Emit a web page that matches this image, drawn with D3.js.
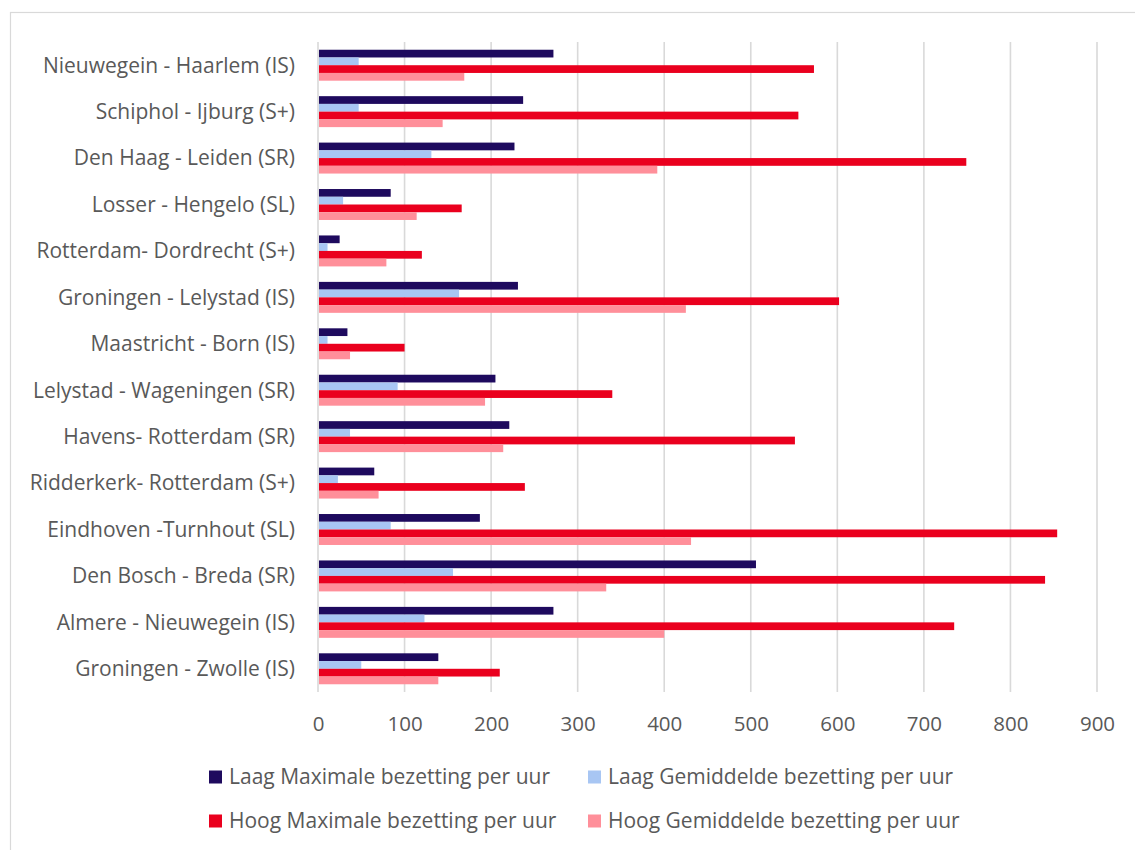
<!DOCTYPE html>
<html>
<head>
    <title>Bezetting per uur</title>
    <style>
        body { margin: 0; background: #fff; }
        text { font-family: "Open Sans", sans-serif; fill: #595959; }
        .grid line { stroke: #d9d9d9; stroke-width: 1.6px; }
    </style>
</head>
<body>
    <script src="https://d3js.org/d3.v7.min.js"></script>
    <script>
        const width = 1135;
        const height = 850;

        // categories top to bottom
        const routes = [
            "Nieuwegein - Haarlem (IS)",
            "Schiphol - Ijburg (S+)",
            "Den Haag - Leiden (SR)",
            "Losser - Hengelo (SL)",
            "Rotterdam- Dordrecht (S+)",
            "Groningen - Lelystad (IS)",
            "Maastricht - Born (IS)",
            "Lelystad - Wageningen (SR)",
            "Havens- Rotterdam (SR)",
            "Ridderkerk- Rotterdam (S+)",
            "Eindhoven -Turnhout (SL)",
            "Den Bosch - Breda (SR)",
            "Almere - Nieuwegein (IS)",
            "Groningen - Zwolle (IS)"
        ];

        const seriesNames = [
            "Laag Maximale bezetting per uur",
            "Laag Gemiddelde bezetting per uur",
            "Hoog Maximale bezetting per uur",
            "Hoog Gemiddelde bezetting per uur"
        ];

        const laagMax = [272, 237, 227, 84, 25, 231, 34, 205, 221, 65, 187, 506, 272, 139];
        const laagGem = [47, 47, 131, 29, 11, 163, 11, 92, 37, 23, 84, 156, 123, 50];
        const hoogMax = [573, 555, 749, 166, 120, 602, 100, 340, 551, 239, 854, 840, 735, 210];
        const hoogGem = [169, 144, 392, 114, 79, 425, 37, 193, 214, 70, 431, 333, 400, 139];

        const colors = ["#1e0a5e", "#a8c6f3", "#ea001e", "#ff8f9a"];
        const xTicks = [0, 100, 200, 300, 400, 500, 600, 700, 800, 900];

        const seriesValues = [laagMax, laagGem, hoogMax, hoogGem];

        const svg = d3.select("body").append("svg")
            .attr("width", width)
            .attr("height", height);

        // chart border
        svg.append("rect")
            .attr("x", 10.5).attr("y", 12.5)
            .attr("width", width + 10).attr("height", height + 10)
            .attr("fill", "none")
            .attr("stroke", "#d9d9d9")
            .attr("stroke-width", 1.2);

        const x = d3.scaleLinear().domain([0, 900]).range([318, 1097]);
        const y = d3.scaleBand().domain(routes).range([42, 692])
            .paddingInner(1 / 3).paddingOuter(1 / 6);
        const ySub = d3.scaleBand().domain(d3.range(4)).range([0, y.bandwidth()]);

        // gridlines
        svg.append("g").attr("class", "grid")
            .selectAll("line")
            .data(xTicks)
            .join("line")
            .attr("x1", d => x(d)).attr("x2", d => x(d))
            .attr("y1", 42).attr("y2", 692);

        // bars
        const groups = svg.append("g")
            .selectAll("g")
            .data(routes)
            .join("g")
            .attr("transform", d => `translate(0,${y(d)})`);

        groups.selectAll("rect")
            .data((d, i) => seriesValues.map((s, k) => ({ k: k, v: s[i] })))
            .join("rect")
            .attr("x", x(0) + 1)
            .attr("y", d => ySub(d.k))
            .attr("width", d => x(d.v) - x(0) - 1)
            .attr("height", ySub.bandwidth())
            .attr("fill", d => colors[d.k]);

        // category labels
        svg.append("g")
            .selectAll("text")
            .data(routes)
            .join("text")
            .attr("x", 295)
            .attr("y", d => y(d) + y.bandwidth() / 2)
            .attr("dy", "0.35em")
            .attr("text-anchor", "end")
            .attr("font-size", 21)
            .text(d => d);

        // x tick labels
        const xAxis = d3.axisBottom(x).tickValues(xTicks).tickSize(0).tickPadding(0);
        const ax = svg.append("g")
            .attr("transform", "translate(0,716)")
            .call(xAxis);
        ax.select(".domain").remove();
        ax.selectAll("text")
            .attr("font-size", 20.5)
            .attr("font-family", "Open Sans, sans-serif")
            .attr("fill", "#595959");

        // legend
        const legendPos = [
            { x: 209, y: 777 },
            { x: 588, y: 777 },
            { x: 209, y: 821 },
            { x: 588, y: 821 }
        ];
        const legend = svg.append("g")
            .selectAll("g")
            .data(seriesNames)
            .join("g")
            .attr("transform", (d, i) => `translate(${legendPos[i].x},${legendPos[i].y})`);

        legend.append("rect")
            .attr("x", 0).attr("y", -6.5)
            .attr("width", 13).attr("height", 13)
            .attr("fill", (d, i) => colors[i]);

        legend.append("text")
            .attr("x", 20)
            .attr("dy", "0.35em")
            .attr("font-size", 21)
            .text(d => d);
    </script>
</body>
</html>
